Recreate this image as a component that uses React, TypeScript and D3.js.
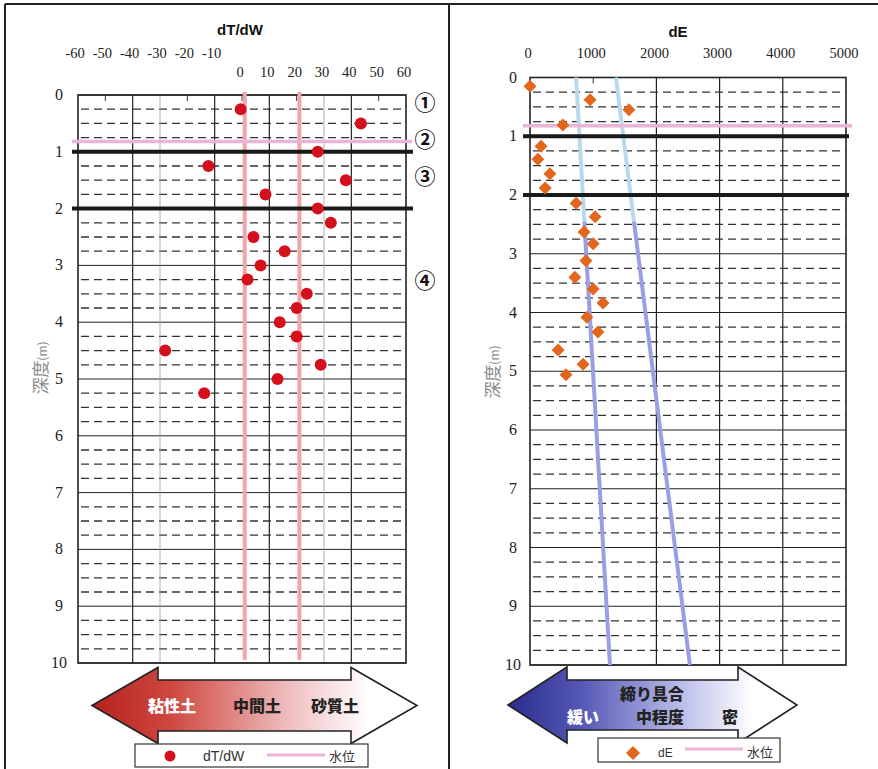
import React from "react";
import * as d3 from "d3";

// ---------- data ----------
const dtwTicks = [-60, -50, -40, -30, -20, -10, 0, 10, 20, 30, 40, 50, 60];
const dtwMajorGrid = [-40, -10, 10, 40];
const dtwThinGrid = [-30, 30];
const dtwTopTicks = [-50, -20, 0, 20, 50];
const dtwBoundaries = [1, 21];

const dtwDepth = [0.25, 0.5, 1, 1.25, 1.5, 1.75, 2, 2.25, 2.5, 2.75, 3, 3.25, 3.5, 3.75, 4, 4.25, 4.5, 4.75, 5, 5.25];
const dtwValue = [-0.5, 43.5, 27.7, -12.3, 38, 8.6, 27.7, 32.5, 4.2, 15.6, 6.8, 2.0, 23.7, 20, 13.8, 20, -28.1, 28.8, 13, -13.8];

const deTicks = [0, 1000, 2000, 3000, 4000, 5000];
const deMajorGrid = [2000, 3000, 4000];
const deTopTicks = [1000];
const deDepth = [0.15, 0.38, 0.55, 0.81, 1.17, 1.39, 1.64, 1.88, 2.14, 2.37, 2.63, 2.83, 3.12, 3.4, 3.6, 3.84, 4.08, 4.33, 4.64, 4.88, 5.06];
const deValue = [0, 950, 1565, 520, 175, 125, 315, 240, 730, 1030, 855, 1000, 885, 710, 1000, 1155, 900, 1075, 445, 840, 570];

const guideDepth = [0, 2.45, 10];
const guideLooseDE = [730, 860, 1265];
const guideDenseDE = [1360, 1645, 2530];

const depthTicks = [0, 1, 2, 3, 4, 5, 6, 7, 8, 9, 10];
const quarterDepths = d3.range(0, 10).flatMap((d) => [d + 0.25, d + 0.5, d + 0.75]);
const layerBounds = [1, 2];
const waterLevel = 0.82;
const layerMarks = ["①", "②", "③", "④"];
const layerMarkDepth = [0.14, 0.79, 1.45, 3.27];

// ---------- scales ----------
const xL = d3.scaleLinear().domain([-60, 60]).range([78, 406]);
const yL = d3.scaleLinear().domain([0, 10]).range([95, 663]);
const xR = d3.scaleLinear().domain([0, 5000]).range([530, 846]);
const yR = d3.scaleLinear().domain([0, 10]).range([77.5, 665]);

const serif = "'Liberation Serif', 'DejaVu Serif', serif";
const sans = "'Liberation Sans', Arial, sans-serif";
const cjk = "'Noto Sans CJK JP', 'Noto Sans', sans-serif";

function arrowPath(x0: number, x1: number, headW: number, yc: number, headH: number, shaftH: number) {
  const ht = yc - headH / 2, hb = yc + headH / 2, st = yc - shaftH / 2, sb = yc + shaftH / 2;
  return `M${x0},${yc} L${x0 + headW},${ht} L${x0 + headW},${st} L${x1 - headW},${st} L${x1 - headW},${ht} L${x1},${yc} L${x1 - headW},${hb} L${x1 - headW},${sb} L${x0 + headW},${sb} L${x0 + headW},${hb} Z`;
}

function HGrid({ x, y }: { x: any; y: any }) {
  const [x0, x1] = x.range();
  return (
    <g>
      {quarterDepths.map((d, i) => (
        <line key={"q" + i} x1={x0 + 3} x2={x1} y1={y(d)} y2={y(d)} stroke="#333" strokeWidth={1.3} strokeDasharray="8,5" />
      ))}
      {depthTicks.map((d) => (
        <line key={"d" + d} x1={x0} x2={x1} y1={y(d)} y2={y(d)} stroke="#222" strokeWidth={1} />
      ))}
    </g>
  );
}

function DepthAxis({ y, x }: { y: any; x: number }) {
  return (
    <g fontFamily={serif} fontSize={16} fill="#222" textAnchor="middle">
      {depthTicks.map((d) => (
        <text key={d} x={x} y={y(d) + 5}>{d}</text>
      ))}
    </g>
  );
}

export default function App() {
  const lineGen = d3.line<[number, number]>().x((p) => xR(p[0])).y((p) => yR(p[1]));
  const seg = (arr: number[], a: number, b: number) =>
    lineGen([[arr[a], guideDepth[a]], [arr[b], guideDepth[b]]]) as string;

  return (
    <svg width={878} height={769} style={{ position: "absolute", left: 0, top: 0, background: "#fff" }}>
      <defs>
        <linearGradient id="redGrad" gradientUnits="userSpaceOnUse" x1={92} x2={417} y1={0} y2={0}>
          <stop offset="0" stopColor="#b4221c" />
          <stop offset="0.25" stopColor="#cf4a42" />
          <stop offset="0.62" stopColor="#f0c2c4" />
          <stop offset="0.85" stopColor="#ffffff" />
        </linearGradient>
        <linearGradient id="blueGrad" gradientUnits="userSpaceOnUse" x1={508} x2={797} y1={0} y2={0}>
          <stop offset="0" stopColor="#2a2d8c" />
          <stop offset="0.25" stopColor="#5457b4" />
          <stop offset="0.65" stopColor="#c9cbef" />
          <stop offset="0.85" stopColor="#ffffff" />
        </linearGradient>
      </defs>

      {/* frame */}
      <line x1={5} x2={878} y1={4} y2={4} stroke="#222" strokeWidth={2} />
      <line x1={5} x2={5} y1={4} y2={769} stroke="#222" strokeWidth={2} />
      <line x1={449} x2={449} y1={4} y2={769} stroke="#222" strokeWidth={2} />

      {/* ================= LEFT: dT/dW ================= */}
      <text x={240} y={35} textAnchor="middle" fontFamily={sans} fontWeight="bold" fontSize={15} fill="#111">dT/dW</text>
      <g fontFamily={serif} fontSize={14.5} fill="#222" textAnchor="middle">
        {dtwTicks.map((t) => (
          <text key={t} x={xL(t) - 3} y={58}>{t < 0 ? t : ""}</text>
        ))}
        {dtwTicks.map((t) => (
          <text key={"p" + t} x={xL(t) - 2} y={77}>{t >= 0 ? t : ""}</text>
        ))}
      </g>
      <HGrid x={xL} y={yL} />
      {dtwMajorGrid.map((v) => (
        <line key={v} x1={xL(v)} x2={xL(v)} y1={yL(0)} y2={yL(10)} stroke="#222" strokeWidth={1.2} />
      ))}
      {dtwThinGrid.map((v) => (
        <line key={v} x1={xL(v)} x2={xL(v)} y1={yL(0)} y2={yL(10)} stroke="#999" strokeWidth={0.8} />
      ))}
      {dtwTopTicks.map((v) => (
        <line key={v} x1={xL(v)} x2={xL(v)} y1={yL(0)} y2={yL(0) + 6} stroke="#333" strokeWidth={1} />
      ))}
      <rect x={xL(-60)} y={yL(0)} width={xL(60) - xL(-60)} height={yL(10) - yL(0)} fill="none" stroke="#222" strokeWidth={1.6} />
      {dtwBoundaries.map((v) => (
        <line key={v} x1={xL(v)} x2={xL(v)} y1={yL(0) - 3} y2={yL(10) - 3} stroke="#f0a5a8" strokeWidth={4} />
      ))}
      <line x1={72} x2={412} y1={yL(waterLevel)} y2={yL(waterLevel)} stroke="#e8b4d8" strokeWidth={3.5} />
      {layerBounds.map((d) => (
        <line key={d} x1={72} x2={413} y1={yL(d)} y2={yL(d)} stroke="#1a1a1a" strokeWidth={4} />
      ))}
      {dtwValue.map((v, i) => (
        <circle key={i} cx={xL(v)} cy={yL(dtwDepth[i])} r={6} fill="#d4101c" />
      ))}
      <DepthAxis y={yL} x={59} />
      <text transform={`translate(47,368) rotate(-90)`} textAnchor="middle" fontFamily={cjk} fontSize={17} fill="#8a8a8a">
        深度<tspan fontSize={12}>(m)</tspan>
      </text>
      <g fontFamily={cjk} fontWeight="bold" fontSize={21} fill="#111" textAnchor="middle">
        {layerMarks.map((m, i) => (
          <text key={m} x={425} y={yL(layerMarkDepth[i]) + 7}>{m}</text>
        ))}
      </g>

      {/* left arrow */}
      <path d={arrowPath(92, 417, 66, 705.5, 76, 51)} fill="url(#redGrad)" stroke="#222" strokeWidth={1.6} />
      <g fontFamily={cjk} fontWeight="900" fontSize={16} textAnchor="middle">
        <text x={172} y={712} fill="#fff">粘性土</text>
        <text x={257} y={712} fill="#222">中間土</text>
        <text x={335} y={712} fill="#222">砂質土</text>
      </g>
      {/* left legend */}
      <rect x={135} y={744} width={233} height={23} fill="#fff" stroke="#333" strokeWidth={1.2} />
      <circle cx={170} cy={756} r={5.5} fill="#d4101c" />
      <text x={203} y={761} fontFamily={sans} fontSize={14} fill="#333">dT/dW</text>
      <line x1={267} x2={325} y1={755} y2={755} stroke="#e8b4d8" strokeWidth={3} />
      <text x={329} y={761} fontFamily={cjk} fontSize={13} fill="#333">水位</text>

      {/* ================= RIGHT: dE ================= */}
      <text x={678} y={37} textAnchor="middle" fontFamily={sans} fontWeight="bold" fontSize={15} fill="#111">dE</text>
      <g fontFamily={serif} fontSize={14.5} fill="#222" textAnchor="middle">
        {deTicks.map((t) => (
          <text key={t} x={xR(t) - 2} y={58}>{t}</text>
        ))}
      </g>
      <HGrid x={xR} y={yR} />
      {deMajorGrid.map((v) => (
        <line key={v} x1={xR(v)} x2={xR(v)} y1={yR(0)} y2={yR(10)} stroke="#222" strokeWidth={1.2} />
      ))}
      {deTopTicks.map((v) => (
        <line key={v} x1={xR(v)} x2={xR(v)} y1={yR(0)} y2={yR(0) + 6} stroke="#333" strokeWidth={1} />
      ))}
      <rect x={xR(0)} y={yR(0)} width={xR(5000) - xR(0)} height={yR(10) - yR(0)} fill="none" stroke="#222" strokeWidth={1.6} />
      <path d={seg(guideLooseDE, 0, 1)} stroke="#b9d8ec" strokeWidth={4} fill="none" />
      <path d={seg(guideLooseDE, 1, 2)} stroke="#9a9ee2" strokeWidth={4} fill="none" />
      <path d={seg(guideDenseDE, 0, 1)} stroke="#b9d8ec" strokeWidth={4} fill="none" />
      <path d={seg(guideDenseDE, 1, 2)} stroke="#9a9ee2" strokeWidth={4} fill="none" />
      <line x1={523} x2={852} y1={yR(waterLevel)} y2={yR(waterLevel)} stroke="#e8b4d8" strokeWidth={3.5} />
      {layerBounds.map((d) => (
        <line key={d} x1={523} x2={849} y1={yR(d)} y2={yR(d)} stroke="#1a1a1a" strokeWidth={4} />
      ))}
      {deValue.map((v, i) => {
        const cx = xR(v), cy = yR(deDepth[i]), s = 6.5;
        return <path key={i} d={`M${cx},${cy - s} L${cx + s},${cy} L${cx},${cy + s} L${cx - s},${cy} Z`} fill="#e2661c" />;
      })}
      <DepthAxis y={yR} x={513} />
      <text transform={`translate(499,372) rotate(-90)`} textAnchor="middle" fontFamily={cjk} fontSize={17} fill="#8a8a8a">
        深度<tspan fontSize={12}>(m)</tspan>
      </text>

      {/* right arrow */}
      <path d={arrowPath(508, 797, 59, 705, 76, 50)} fill="url(#blueGrad)" stroke="#222" strokeWidth={1.6} />
      <g fontFamily={cjk} fontWeight="900" fontSize={16} textAnchor="middle">
        <text x={652} y={700} fill="#222">締り具合</text>
        <text x={583} y={723} fill="#fff">緩い</text>
        <text x={660} y={723} fill="#222">中程度</text>
        <text x={730} y={723} fill="#222">密</text>
      </g>
      {/* right legend */}
      <rect x={598} y={738} width={182} height={24} fill="#fff" stroke="#333" strokeWidth={1.2} />
      <path d={`M633,746 L640,753 L633,760 L626,753 Z`} fill="#e2661c" />
      <text x={658} y={757} fontFamily={sans} fontSize={12} fill="#333">dE</text>
      <line x1={685} x2={743} y1={749} y2={749} stroke="#e8b4d8" strokeWidth={3} />
      <text x={747} y={757} fontFamily={cjk} fontSize={13} fill="#333">水位</text>
    </svg>
  );
}
